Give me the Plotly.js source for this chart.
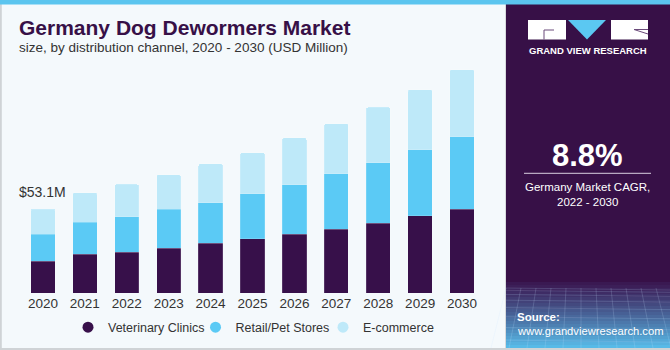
<!DOCTYPE html>
<html>
<head>
<meta charset="utf-8">
<script src="https://cdn.plot.ly/plotly-3.0.1.min.js"></script>
<style>html,body{margin:0;padding:0;background:#fff;}#chart{width:670px;height:350px;}</style>
</head>
<body>
<div id="chart"></div>
<script>
// ---- data (USD Million) ----
const years = ['2020','2021','2022','2023','2024','2025','2026','2027','2028','2029','2030'];
const veterinaryClinics = [20.2, 24.4, 25.9, 28.2, 31.3, 34.3, 37.3, 40.2, 44.0, 48.7, 52.8];
const retailPetStores   = [17.1, 20.2, 22.3, 24.6, 25.9, 28.4, 31.2, 35.2, 38.2, 41.9, 45.9];
const eCommerce         = [15.8, 18.8, 20.5, 21.9, 24.5, 26.1, 29.5, 31.6, 35.1, 37.9, 42.5];
const seriesNames = ['Veterinary Clinics', 'Retail/Pet Stores', 'E-commerce'];
const firstYearLabel = '$53.1M';
const cagrText = '8.8%';

// ---- style ----
const W = 670, H = 350;
const px = v => v / W;            // x pixel -> paper
const py = v => 1 - v / H;        // y pixel -> paper
const colors = ['#37104a', '#5bcaf5', '#bee9f9'];
const FONT = 'Liberation Sans, Arial, sans-serif';

const seriesVals = [veterinaryClinics, retailPetStores, eCommerce];
const traces = seriesVals.map((vals, i) => ({
  type: 'bar', x: years, y: vals, name: seriesNames[i],
  marker: {color: colors[i], line: {color: 'rgba(255,255,255,0.25)', width: 0.6}},
  showlegend: false, hoverinfo: 'x+y+name'
}));
// legend entries with round markers (on a hidden helper axis)
seriesNames.forEach((n, i) => traces.push({
  type: 'scatter', mode: 'markers', x: [null], y: [null], name: n, xaxis: 'x2', yaxis: 'y2',
  marker: {color: colors[i], size: 11, symbol: 'circle'}, showlegend: true
}));

const shapes = [];
// left panel background + border
shapes.push({type:'rect', xref:'paper', yref:'paper', x0:0, x1:px(506), y0:0, y1:1,
  fillcolor:'#f4f9fc', line:{width:0}, layer:'below'});
shapes.push({type:'line', xref:'paper', yref:'paper', x0:px(0.8), x1:px(0.8), y0:0, y1:1, line:{color:'#cfd3d6', width:2}, layer:'below'});
shapes.push({type:'line', xref:'paper', yref:'paper', x0:0, x1:1, y0:py(349), y1:py(349), line:{color:'#cfd3d6', width:2}});
shapes.push({type:'line', xref:'paper', yref:'paper', x0:px(505.5), x1:px(505.5), y0:0, y1:1, line:{color:'#d7dadd', width:1}, layer:'below'});
// right panel
shapes.push({type:'rect', xref:'paper', yref:'paper', x0:px(506), x1:1, y0:py(348), y1:1,
  fillcolor:'#371047', line:{width:0}, layer:'below'});
// gradient bottom of right panel
const g0 = [58, 22, 80], g1 = [88, 190, 235];
const gTop = 282, gBot = 348, nB = 22;
for (let k = 0; k < nB; k++) {
  const t = (k + 0.5) / nB, e = Math.pow(t, 1.1);
  const c = g0.map((a, j) => Math.round(a + (g1[j] - a) * e));
  shapes.push({type:'rect', xref:'paper', yref:'paper', x0:px(506), x1:1,
    y0:py(gTop + (k + 1) * (gBot - gTop) / nB), y1:py(gTop + k * (gBot - gTop) / nB),
    fillcolor:`rgb(${c[0]},${c[1]},${c[2]})`, line:{width:0}, layer:'below'});
}
// faint grid lines in the gradient
for (let k = 0; k < 12; k++) {
  const xx = 506 + k * 15;
  shapes.push({type:'line', xref:'paper', yref:'paper', x0:px(xx), x1:px(xx + (k - 5) * 3), y0:py(288), y1:py(348),
    line:{color:'rgba(200,225,255,0.18)', width:1}, layer:'below'});
}
for (let k = 0; k < 9; k++) {
  const yy = 288 + k * k * 0.85 + k * 1.5;
  shapes.push({type:'line', xref:'paper', yref:'paper', x0:px(506), x1:1, y0:py(yy), y1:py(yy + 2),
    line:{color:'rgba(200,225,255,0.16)', width:1}, layer:'below'});
}
// top stripe
shapes.push({type:'rect', xref:'paper', yref:'paper', x0:0, x1:1, y0:py(4.5), y1:1,
  fillcolor:'#5bc5ef', line:{width:0}});
// logo
shapes.push({type:'rect', xref:'paper', yref:'paper', x0:px(528), x1:px(566), y0:py(39.5), y1:py(20), fillcolor:'#ffffff', line:{width:0}});
shapes.push({type:'path', xref:'paper', yref:'paper',
  path:`M ${px(568)} ${py(20)} L ${px(606)} ${py(20)} L ${px(587)} ${py(39.5)} Z`, fillcolor:'#5bc8f2', line:{width:0}});
shapes.push({type:'rect', xref:'paper', yref:'paper', x0:px(611), x1:px(648), y0:py(39.5), y1:py(20), fillcolor:'#ffffff', line:{width:0}});
shapes.push({type:'line', xref:'paper', yref:'paper', x0:px(544), x1:px(554), y0:py(30), y1:py(30), line:{color:'#6b4a7a', width:1}});
shapes.push({type:'line', xref:'paper', yref:'paper', x0:px(544), x1:px(544), y0:py(30), y1:py(39.5), line:{color:'#6b4a7a', width:1}});
shapes.push({type:'line', xref:'paper', yref:'paper', x0:px(634), x1:px(648), y0:py(29.5), y1:py(29.5), line:{color:'#6b4a7a', width:1}});
shapes.push({type:'line', xref:'paper', yref:'paper', x0:px(634), x1:px(648), y0:py(29.5), y1:py(34), line:{color:'#6b4a7a', width:1}});
// CAGR separator line
shapes.push({type:'line', xref:'paper', yref:'paper', x0:px(524), x1:px(651), y0:py(173.3), y1:py(173.3), line:{color:'#d9cfe0', width:1}});

const firstTotal = veterinaryClinics[0] + retailPetStores[0] + eCommerce[0];

const layout = {
  width: W, height: H,
  margin: {l:0, r:0, t:0, b:0},
  paper_bgcolor: '#ffffff', plot_bgcolor: 'rgba(0,0,0,0)',
  barmode: 'stack', bargap: 0.42, barcornerradius: 2,
  font: {family: FONT, color: '#333333', size: 13},
  xaxis: {domain: [px(22), px(483)], type: 'category', categoryorder: 'array', categoryarray: years,
    range: [-0.5, years.length - 0.5], showgrid: false, zeroline: false, showline: false,
    ticks: '', tickfont: {family: FONT, size: 13.5, color: '#333333'}, fixedrange: true},
  yaxis: {domain: [py(293), py(60)], range: [0, 147.3], visible: false, fixedrange: true},
  xaxis2: {domain: [0, 0.01], visible: false, range: [0, 1], anchor: 'y2'},
  yaxis2: {domain: [0, 0.01], visible: false, range: [0, 1], anchor: 'x2'},
  showlegend: true,
  legend: {orientation: 'h', x: px(68), xanchor: 'left', y: py(327.5), yanchor: 'middle',
    bgcolor: 'rgba(0,0,0,0)', font: {family: FONT, size: 12.5, color: '#333333'},
    itemwidth: 30, entrywidth: 82.5, entrywidthmode: 'pixels', traceorder: 'normal'},
  shapes: shapes,
  annotations: [
    {xref:'paper', yref:'paper', x:px(17), y:py(27), xanchor:'left', yanchor:'middle', showarrow:false,
      text:'<b>Germany Dog Dewormers Market</b>', font:{family: FONT, size: 21, color:'#371047'}},
    {xref:'paper', yref:'paper', x:px(17), y:py(48), xanchor:'left', yanchor:'middle', showarrow:false,
      text:'size, by distribution channel, 2020 - 2030 (USD Million)', font:{family: FONT, size: 13.5, color:'#333333'}},
    {xref:'x', yref:'y', x: years.indexOf('2020'), y: firstTotal,
      xanchor:'center', yanchor:'bottom', yshift: 7, showarrow:false,
      text: firstYearLabel, font:{family: FONT, size: 14, color:'#333333'}},
    {xref:'paper', yref:'paper', x:px(588), y:py(50.5), xanchor:'center', yanchor:'middle', showarrow:false,
      text:'<b>GRAND VIEW RESEARCH</b>', font:{family: FONT, size: 9.5, color:'#ffffff'}},
    {xref:'paper', yref:'paper', x:px(587.5), y:py(155), xanchor:'center', yanchor:'middle', showarrow:false,
      text:'<b>' + cagrText + '</b>', font:{family: FONT, size: 31, color:'#ffffff'}},
    {xref:'paper', yref:'paper', x:px(587.5), y:py(187), xanchor:'center', yanchor:'middle', showarrow:false,
      text:'Germany Market CAGR,', font:{family: FONT, size: 11.5, color:'#ffffff'}},
    {xref:'paper', yref:'paper', x:px(587.5), y:py(201.5), xanchor:'center', yanchor:'middle', showarrow:false,
      text:'2022 - 2030', font:{family: FONT, size: 11.5, color:'#ffffff'}},
    {xref:'paper', yref:'paper', x:px(515), y:py(317), xanchor:'left', yanchor:'middle', showarrow:false,
      text:'<b>Source:</b>', font:{family: FONT, size: 11.5, color:'#ffffff'}},
    {xref:'paper', yref:'paper', x:px(515), y:py(330.5), xanchor:'left', yanchor:'middle', showarrow:false,
      text:'www.grandviewresearch.com', font:{family: FONT, size: 11.2, color:'#ffffff'}}
  ]
};

Plotly.newPlot('chart', traces, layout, {displayModeBar: false, staticPlot: true});
</script>
</body>
</html>
